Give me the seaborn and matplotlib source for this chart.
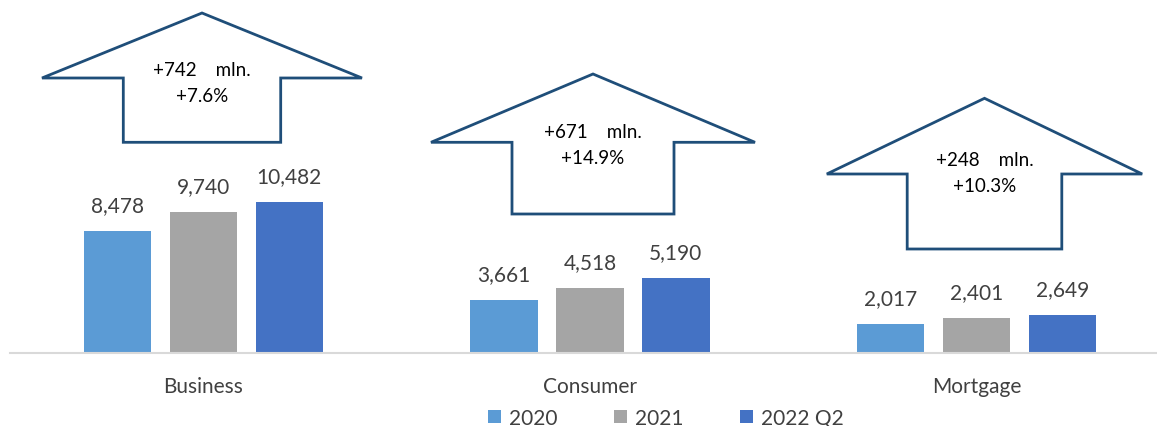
import matplotlib
matplotlib.use("Agg")
import matplotlib.pyplot as plt
from matplotlib.patches import Polygon
import pandas as pd
import seaborn as sns

# Loan portfolio by segment, mln.
segments = ["Business", "Consumer", "Mortgage"]
periods = ["2020", "2021", "2022 Q2"]
values_2020 = [8478, 3661, 2017]
values_2021 = [9740, 4518, 2401]
values_2022q2 = [10482, 5190, 2649]

# Growth since end of 2021
growth_mln = [742, 671, 248]
growth_pct = [7.6, 14.9, 10.3]

colors = ["#5B9BD5", "#A5A5A5", "#4472C4"]

df = pd.DataFrame({
    "segment": segments * 3,
    "period": [p for p in periods for _ in segments],
    "value": values_2020 + values_2021 + values_2022q2,
})

sns.set_theme(style="white")
plt.rcParams["font.family"] = ["Lato", "DejaVu Sans"]

W, H = 1157, 427
fig = plt.figure(figsize=(W / 100, H / 100), dpi=100)
ax = fig.add_axes([10 / W, (H - 354) / H, (W - 10) / W, 354 / H])

sns.barplot(data=df, x="segment", y="value", hue="period", order=segments,
            hue_order=periods, palette=colors, width=0.6675, gap=0.215,
            errorbar=None, saturation=1, linewidth=0, ax=ax)

ax.set_xlim(-0.5, 2.467)
ax.set_ylim(0, 24532)
ax.set_xlabel("")
ax.set_ylabel("")
ax.set_yticks([])
for side in ["left", "right", "top"]:
    ax.spines[side].set_visible(False)
ax.spines["bottom"].set_color("#D9D9D9")
ax.spines["bottom"].set_linewidth(1.5)
ax.tick_params(axis="x", length=0, pad=16.5, labelsize=15, labelcolor="#404040")

for cont in ax.containers:
    ax.bar_label(cont, labels=[f"{v:,.0f}" for v in cont.datavalues],
                 padding=11.5, fontsize=15, color="#404040")

sns.move_legend(ax, "center", bbox_to_anchor=(666 / W, (H - 419) / H),
                bbox_transform=fig.transFigure, ncol=3, frameon=False,
                title=None, fontsize=15, handlelength=0.63, handleheight=0.63,
                handletextpad=0.38, columnspacing=2.7, borderpad=0)
for t in ax.get_legend().get_texts():
    t.set_color("#404040")


def px(x, y):
    return (x / W, 1 - y / H)


# Growth arrows: centre x, tip y, wing y, bottom y, wing half-width, shaft half-width, text y
arrows = [
    (202.0, 14.0, 79.0, 143.3, 160.0, 78.7, 70.5),
    (593.0, 75.0, 143.3, 215.0, 162.0, 81.0, 133.0),
    (984.5, 99.3, 175.0, 250.0, 157.7, 77.3, 160.5),
]
for (cx, tip, wing, bottom, hw, sw, ty), dm, dp in zip(arrows, growth_mln, growth_pct):
    pts = [px(cx, tip), px(cx + hw, wing), px(cx + sw, wing), px(cx + sw, bottom),
           px(cx - sw, bottom), px(cx - sw, wing), px(cx - hw, wing)]
    fig.patches.append(Polygon(pts, closed=True, facecolor="white",
                               edgecolor="#1F4E79", linewidth=2.0,
                               joinstyle="miter", transform=fig.transFigure))
    fig.text(*px(cx, ty), f"+{dm}    mln.", ha="center", va="center",
             fontsize=13.5, color="black")
    fig.text(*px(cx, ty + 26), f"+{dp:.1f}%", ha="center", va="center",
             fontsize=13.5, color="black")

fig.savefig("out.png", dpi=100)
